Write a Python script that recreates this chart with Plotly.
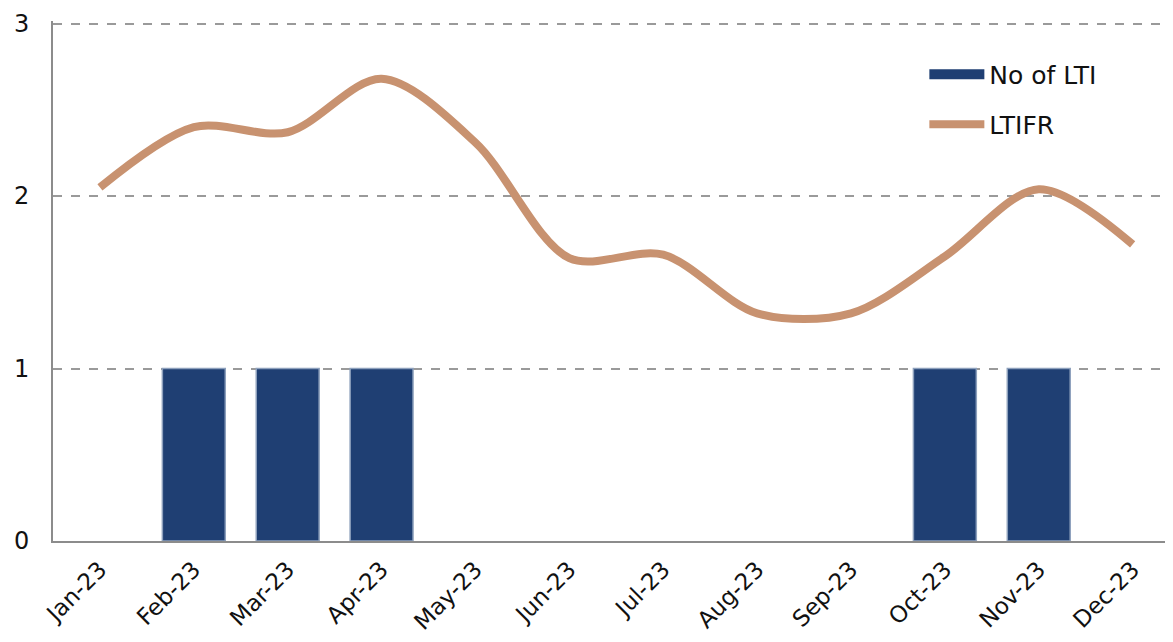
import plotly.graph_objects as go

months = ["Jan-23", "Feb-23", "Mar-23", "Apr-23", "May-23", "Jun-23",
          "Jul-23", "Aug-23", "Sep-23", "Oct-23", "Nov-23", "Dec-23"]
no_of_lti = [0, 1, 1, 1, 0, 0, 0, 0, 0, 1, 1, 0]
ltifr = [2.05, 2.40, 2.37, 2.68, 2.31, 1.64, 1.66, 1.32, 1.32, 1.65, 2.04, 1.72]

FONT = "DejaVu Sans"
NAVY = "#1F3F73"
TAN = "#C89270"

fig = go.Figure()
fig.add_trace(go.Bar(
    x=months, y=no_of_lti, name="No of LTI", showlegend=False,
    marker=dict(color=NAVY,
                line=dict(color="#8DA0BC",
                          width=[1.5 if v else 0 for v in no_of_lti])),
    width=0.67,
))
fig.add_trace(go.Scatter(
    x=months, y=ltifr, name="LTIFR", mode="lines", legend="legend2",
    line=dict(color=TAN, width=8, shape="spline", smoothing=0.9),
))
# legend entry for the bars (wide swatch like the original)
fig.add_trace(go.Scatter(
    x=[None], y=[None], name="No of LTI", mode="lines", legend="legend",
    line=dict(color=NAVY, width=14),
))

fig.update_layout(
    width=1165, height=634,
    margin=dict(l=45, r=0, t=13, b=101, autoexpand=False),
    plot_bgcolor="white", paper_bgcolor="white",
    font=dict(family=FONT, size=24, color="#111111"),
    legend=dict(x=0.778, y=0.897, xanchor="left", yanchor="middle",
                bgcolor="rgba(0,0,0,0)", font=dict(size=25), itemwidth=55),
    legend2=dict(x=0.778, y=0.801, xanchor="left", yanchor="middle",
                 bgcolor="rgba(0,0,0,0)", font=dict(size=25), itemwidth=55),
    bargap=0.33,
)
fig.update_xaxes(
    type="category", range=[-0.5, 11.43], automargin=False,
    tickangle=-45, showgrid=False,
    showline=True, linecolor="#8C8C8C", linewidth=2,
    ticks="", ticklabelstandoff=4, tickfont=dict(size=23, family=FONT),
)
fig.update_yaxes(
    range=[0, 3.015], tickvals=[0, 1, 2, 3], automargin=False,
    showgrid=True, gridcolor="#9A9A9A", gridwidth=1.5, griddash="dash",
    showline=True, linecolor="#8C8C8C", linewidth=2,
    zeroline=False, ticks="", ticklabelstandoff=17,
    tickfont=dict(size=24, family=FONT),
)

fig.write_html("out.html")
